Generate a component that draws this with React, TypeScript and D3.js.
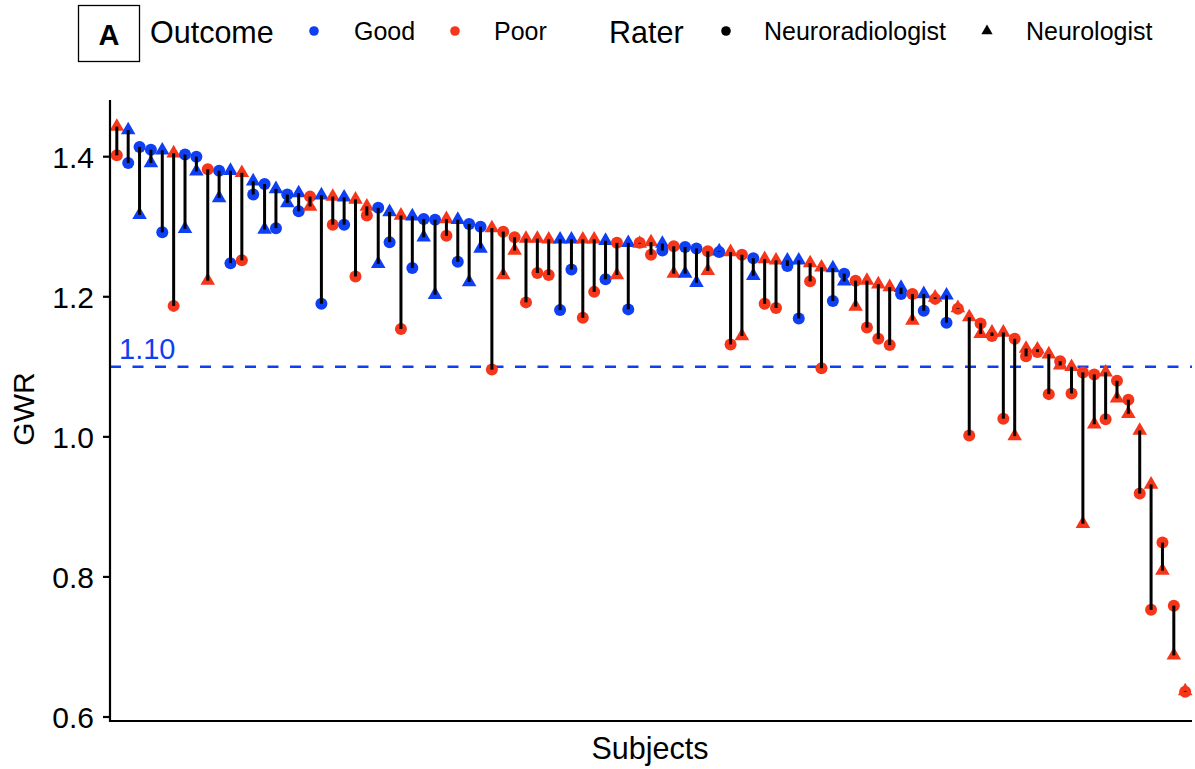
import React from 'react';
import * as d3 from 'd3';

// neuroradiologist (circle) and neurologist (triangle) GWR per subject, sorted
const outcomes: string[] = [
  'Poor', 'Good', 'Good', 'Good', 'Good', 'Poor', 'Good', 'Good', 'Poor', 'Good',
  'Good', 'Poor', 'Good', 'Good', 'Good', 'Good', 'Good', 'Poor', 'Good', 'Poor',
  'Good', 'Poor', 'Poor', 'Good', 'Good', 'Poor', 'Good', 'Good', 'Good', 'Poor',
  'Good', 'Good', 'Good', 'Poor', 'Poor', 'Poor', 'Poor', 'Poor', 'Poor', 'Good',
  'Good', 'Poor', 'Poor', 'Good', 'Poor', 'Good', 'Poor', 'Poor', 'Good', 'Poor',
  'Good', 'Good', 'Poor', 'Good', 'Poor', 'Poor', 'Good', 'Poor', 'Poor', 'Good',
  'Good', 'Poor', 'Poor', 'Good', 'Good', 'Poor', 'Poor', 'Poor', 'Poor', 'Good',
  'Poor', 'Good', 'Poor', 'Good', 'Poor', 'Poor', 'Poor', 'Poor', 'Poor', 'Poor',
  'Poor', 'Poor', 'Poor', 'Poor', 'Poor', 'Poor', 'Poor', 'Poor', 'Poor', 'Poor',
  'Poor', 'Poor', 'Poor', 'Poor', 'Poor',
];

const neuroradiologist: number[] = [
  1.402, 1.391, 1.414, 1.410, 1.292, 1.187, 1.403, 1.400, 1.382, 1.380,
  1.248, 1.252, 1.346, 1.361, 1.298, 1.346, 1.322, 1.343, 1.190, 1.303,
  1.303, 1.229, 1.316, 1.327, 1.278, 1.154, 1.241, 1.311, 1.310, 1.287,
  1.250, 1.304, 1.300, 1.096, 1.293, 1.285, 1.192, 1.234, 1.231, 1.181,
  1.239, 1.170, 1.207, 1.225, 1.277, 1.182, 1.277, 1.260, 1.266, 1.272,
  1.271, 1.269, 1.265, 1.264, 1.132, 1.260, 1.255, 1.190, 1.184, 1.244,
  1.169, 1.222, 1.098, 1.194, 1.233, 1.223, 1.156, 1.140, 1.131, 1.204,
  1.204, 1.180, 1.197, 1.163, 1.183, 1.002, 1.162, 1.144, 1.026, 1.140,
  1.115, 1.121, 1.061, 1.108, 1.062, 1.092, 1.089, 1.025, 1.080, 1.053,
  0.919, 0.753, 0.849, 0.759, 0.636,
];

const neurologist: number[] = [
  1.443, 1.438, 1.317, 1.391, 1.409, 1.405, 1.297, 1.379, 1.223, 1.341,
  1.380, 1.377, 1.365, 1.296, 1.354, 1.334, 1.348, 1.329, 1.345, 1.343,
  1.342, 1.339, 1.329, 1.247, 1.321, 1.316, 1.315, 1.285, 1.203, 1.311,
  1.310, 1.221, 1.269, 1.298, 1.231, 1.266, 1.283, 1.283, 1.282, 1.282,
  1.282, 1.282, 1.282, 1.280, 1.231, 1.277, 1.276, 1.278, 1.276, 1.233,
  1.233, 1.220, 1.237, 1.265, 1.264, 1.144, 1.230, 1.254, 1.252, 1.252,
  1.252, 1.248, 1.242, 1.241, 1.222, 1.186, 1.223, 1.218, 1.214, 1.213,
  1.166, 1.204, 1.199, 1.202, 1.184, 1.171, 1.147, 1.149, 1.149, 1.001,
  1.126, 1.125, 1.118, 1.102, 1.100, 0.876, 1.018, 1.092, 1.055, 1.033,
  1.009, 0.932, 0.809, 0.688, 0.637,
];

const yTicks: number[] = [0.6, 0.8, 1.0, 1.2, 1.4];
const threshold = 1.1;

const colors: Record<string, string> = { Good: '#0f3ff2', Poor: '#f5361a' };
const font = '"Liberation Sans", Arial, Helvetica, sans-serif';

const App: React.FC = () => {
  const width = 1195;
  const height = 769;
  const left = 110;
  const right = 1192;
  const top = 100;
  const bottom = 721;

  const subjects = d3.range(outcomes.length);
  const x = d3.scalePoint<number>().domain(subjects).range([left, right]).padding(0.6);
  const y = d3.scaleLinear().domain([0.6, 1.4]).range([717, 156.7]);

  const tri = d3.symbol().type(d3.symbolTriangle).size(92)();
  const triSmall = d3.symbol().type(d3.symbolTriangle).size(55)();

  return (
    <div style={{ position: 'absolute', left: 0, top: 0 }}>
      <svg width={width} height={height} style={{ display: 'block', background: '#fff' }} fontFamily={font}>
        {/* legend */}
        <rect x={78.5} y={5.5} width={61} height={56} fill="none" stroke="#000" strokeWidth={1.3} />
        <text x={109} y={45} textAnchor="middle" fontSize={29} fontWeight="bold">A</text>
        <text x={150} y={43} fontSize={30.5}>Outcome</text>
        <circle cx={314} cy={31} r={4.8} fill={colors.Good} />
        <text x={354} y={40} fontSize={25}>Good</text>
        <circle cx={455} cy={31} r={4.8} fill={colors.Poor} />
        <text x={494} y={40} fontSize={25}>Poor</text>
        <text x={609} y={43} fontSize={30.5}>Rater</text>
        <circle cx={726} cy={31} r={4.8} fill="#000" />
        <text x={764} y={40} fontSize={25}>Neuroradiologist</text>
        <path d={triSmall as string} transform="translate(987,31)" fill="#000" />
        <text x={1026} y={40} fontSize={25}>Neurologist</text>

        {/* threshold */}
        <line x1={left} x2={right} y1={y(threshold)} y2={y(threshold)} stroke={colors.Good} strokeWidth={2.4} strokeDasharray="11,11.5" />
        <text x={119} y={y(threshold) - 8} fontSize={29} fill={colors.Good}>1.10</text>

        {/* points */}
        {subjects.map((i) => (
          <g key={'p' + i} fill={colors[outcomes[i]]}>
            <circle cx={x(i)} cy={y(neuroradiologist[i])} r={6} />
            <path d={tri as string} transform={`translate(${x(i)},${y(neurologist[i])})`} />
          </g>
        ))}
        {/* segments between raters */}
        {subjects.map((i) => (
          <line
            key={'s' + i}
            x1={x(i)}
            x2={x(i)}
            y1={y(neuroradiologist[i])}
            y2={y(neurologist[i])}
            stroke="#000"
            strokeWidth={3}
          />
        ))}

        {/* axes */}
        <line x1={left} x2={left} y1={top} y2={bottom + 1} stroke="#000" strokeWidth={2.2} />
        <line x1={left - 1} x2={right} y1={bottom} y2={bottom} stroke="#000" strokeWidth={2.2} />
        {yTicks.map((t) => (
          <g key={t}>
            <line x1={left - 7} x2={left} y1={y(t)} y2={y(t)} stroke="#000" strokeWidth={2.2} />
            <text x={94} y={y(t) + 11} textAnchor="end" fontSize={30}>{t.toFixed(1)}</text>
          </g>
        ))}
        <text x={650} y={759} textAnchor="middle" fontSize={30.5}>Subjects</text>
        <text transform="translate(34,409) rotate(-90)" textAnchor="middle" fontSize={30}>GWR</text>
      </svg>
    </div>
  );
};

export default App;
